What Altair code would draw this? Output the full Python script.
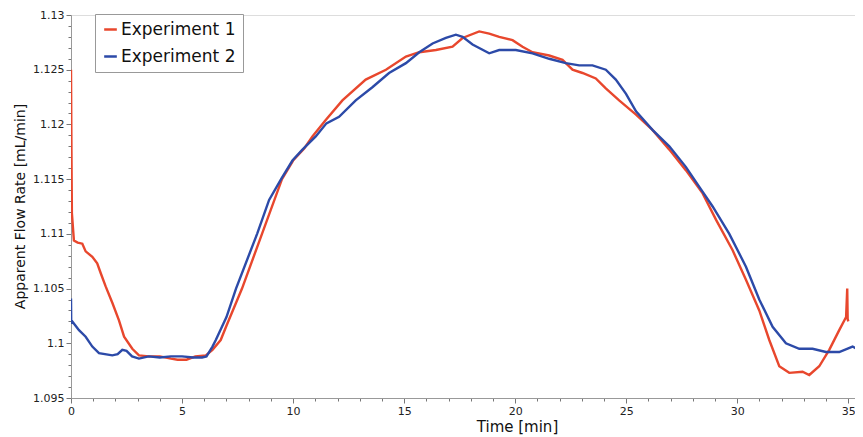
import altair as alt
import pandas as pd

# Experiment 1 (red) trace: time [min], apparent flow rate [mL/min]
exp1_t = [0.0, 0.02, 0.04, 0.13, 0.3, 0.51, 0.66, 0.96, 1.18, 1.34, 1.56, 1.86, 2.16, 2.39,
          2.76, 3.06, 3.5, 4.0, 4.5, 4.8, 5.2, 5.6, 6.07, 6.37, 6.74, 7.0, 7.7, 8.6, 9.5,
          10.0, 10.5, 10.87, 11.47, 12.22, 13.27, 14.18, 15.08, 15.68, 16.43, 17.18, 17.63,
          18.38, 18.83, 19.28, 19.88, 20.33, 20.78, 21.53, 22.13, 22.58, 23.03, 23.63, 24.08,
          24.68, 25.44, 26.18, 26.94, 27.69, 28.44, 29.04, 29.79, 30.39, 30.99, 31.44, 31.89,
          32.34, 32.94, 33.24, 33.69, 34.14, 34.59, 34.90, 34.95, 34.97, 35.0]
exp1_v = [1.1250, 1.1177, 1.1119, 1.1094, 1.1092, 1.1091, 1.1084, 1.1079, 1.1073, 1.1064,
          1.1052, 1.1037, 1.1021, 1.1006, 1.0995, 1.0989, 1.0988, 1.0988, 1.0986, 1.0985,
          1.0985, 1.0988, 1.0989, 1.0994, 1.1003, 1.1016, 1.1050, 1.1100, 1.1150, 1.1167,
          1.1178, 1.1189, 1.1204, 1.1222, 1.1241, 1.1250, 1.1262, 1.1266, 1.1268, 1.1271,
          1.1279, 1.1285, 1.1283, 1.1280, 1.1277, 1.1271, 1.1266, 1.1263, 1.1259, 1.1250,
          1.1247, 1.1242, 1.1233, 1.1222, 1.1209, 1.1195, 1.1177, 1.1158, 1.1137, 1.1113,
          1.1085, 1.1058, 1.1030, 1.1003, 1.0979, 1.0973, 1.0974, 1.0971, 1.0979, 1.0994,
          1.1012, 1.1024, 1.1050, 1.1022, 1.1020]

# Experiment 2 (blue) trace
exp2_t = [0.0, 0.01, 0.06, 0.36, 0.66, 0.96, 1.26, 1.86, 2.1, 2.31, 2.5, 2.75, 3.06, 3.5,
          4.0, 4.5, 5.0, 5.5, 5.9, 6.1, 6.37, 6.52, 7.0, 7.43, 8.38, 8.92, 9.46, 9.97, 10.42,
          11.02, 11.5, 12.07, 12.82, 13.57, 14.32, 15.08, 15.68, 16.28, 16.88, 17.33, 17.63,
          18.08, 18.83, 19.28, 20.03, 20.78, 21.53, 22.28, 22.88, 23.48, 24.08, 24.53, 24.99,
          25.44, 26.18, 26.94, 27.69, 28.29, 28.89, 29.64, 30.39, 30.99, 31.59, 32.19, 32.79,
          33.39, 33.99, 34.59, 35.19, 35.63]
exp2_v = [1.1041, 1.1018, 1.1020, 1.1012, 1.1006, 1.0997, 1.0991, 1.0989, 1.0990, 1.0994,
          1.0993, 1.0988, 1.0986, 1.0988, 1.0987, 1.0988, 1.0988, 1.0987, 1.0987, 1.0988,
          1.0997, 1.1003, 1.1024, 1.1050, 1.1100, 1.1131, 1.1150, 1.1167, 1.1177, 1.1189,
          1.1201, 1.1207, 1.1222, 1.1234, 1.1247, 1.1256, 1.1266, 1.1274, 1.1279, 1.1282,
          1.1280, 1.1273, 1.1265, 1.1268, 1.1268, 1.1265, 1.1260, 1.1256, 1.1254, 1.1254,
          1.1250, 1.1241, 1.1228, 1.1212, 1.1195, 1.1180, 1.1161, 1.1143, 1.1125, 1.1100,
          1.1070, 1.1040, 1.1015, 1.1000, 1.0995, 1.0995, 1.0992, 1.0992, 1.0997, 1.0992]

series_names = ["Experiment 1", "Experiment 2"]
series_colors = ["#e8472d", "#2c4aa8"]

x_ticks = list(range(0, 36))
y_ticks = [round(1.095 + i * 0.001, 3) for i in range(36)]

df = pd.concat([
    pd.DataFrame({"t": exp1_t, "v": exp1_v, "s": series_names[0], "o": range(len(exp1_t))}),
    pd.DataFrame({"t": exp2_t, "v": exp2_v, "s": series_names[1], "o": range(len(exp2_t))}),
])

FONT = "DejaVu Sans"

chart = alt.Chart(df).mark_line(strokeWidth=2.4, clip=True).encode(
    x=alt.X("t:Q",
            scale=alt.Scale(domain=[0, 35.3], nice=False, zero=False),
            axis=alt.Axis(values=x_ticks, title="Time [min]",
                          labelExpr="datum.value % 5 === 0 ? datum.label : ''",
                          tickSize={"condition": {"test": "datum.value % 5 === 0", "value": 5}, "value": 3},
                          labelOverlap=False, labelFlush=False, grid=False,
                          domainColor="#999999", tickColor="#777777",
                          labelFont=FONT, labelFontSize=11, labelColor="#222222", labelPadding=2,
                          titleFont=FONT, titleFontSize=15, titleFontWeight="normal",
                          titleColor="#111111", titleX=446, titleY=33,
                          titleBaseline="alphabetic", titleAnchor="middle", titleAlign="center")),
    y=alt.Y("v:Q",
            scale=alt.Scale(domain=[1.095, 1.13], nice=False, zero=False),
            axis=alt.Axis(values=y_ticks, title="Apparent Flow Rate  [mL/min]",
                          labelExpr="round(datum.value * 1000) % 5 === 0 ? format(datum.value, '.3~f') : ''",
                          tickSize={"condition": {"test": "round(datum.value * 1000) % 5 === 0", "value": 5}, "value": 3},
                          labelOverlap=False, labelFlush=False, grid=False,
                          domainColor="#999999", tickColor="#777777",
                          labelFont=FONT, labelFontSize=11, labelColor="#222222", labelPadding=2,
                          titleFont=FONT, titleFontSize=14, titleFontWeight="normal",
                          titleColor="#111111", titleX=-51, titleY=191, titleAngle=270,
                          titleAlign="center", titleBaseline="middle")),
    color=alt.Color("s:N",
                    scale=alt.Scale(domain=series_names, range=series_colors),
                    legend=alt.Legend(title=None, orient="none", legendX=24, legendY=-1,
                                      symbolType="stroke", symbolSize=160, symbolStrokeWidth=2.5,
                                      labelFont=FONT, labelFontSize=17, labelColor="#111111",
                                      labelLimit=300, strokeColor="#999999", fillColor="white",
                                      padding=7, rowPadding=9, labelOffset=2, cornerRadius=0)),
    order="o:Q",
).properties(
    width=784, height=383,
    autosize=alt.AutoSizeParams(type="none"),
    padding={"left": 63, "top": 7, "right": 0, "bottom": 39},
).configure_view(stroke=None).configure(background="white")

chart.save("out.html", embed_options={"renderer": "svg", "actions": False})
